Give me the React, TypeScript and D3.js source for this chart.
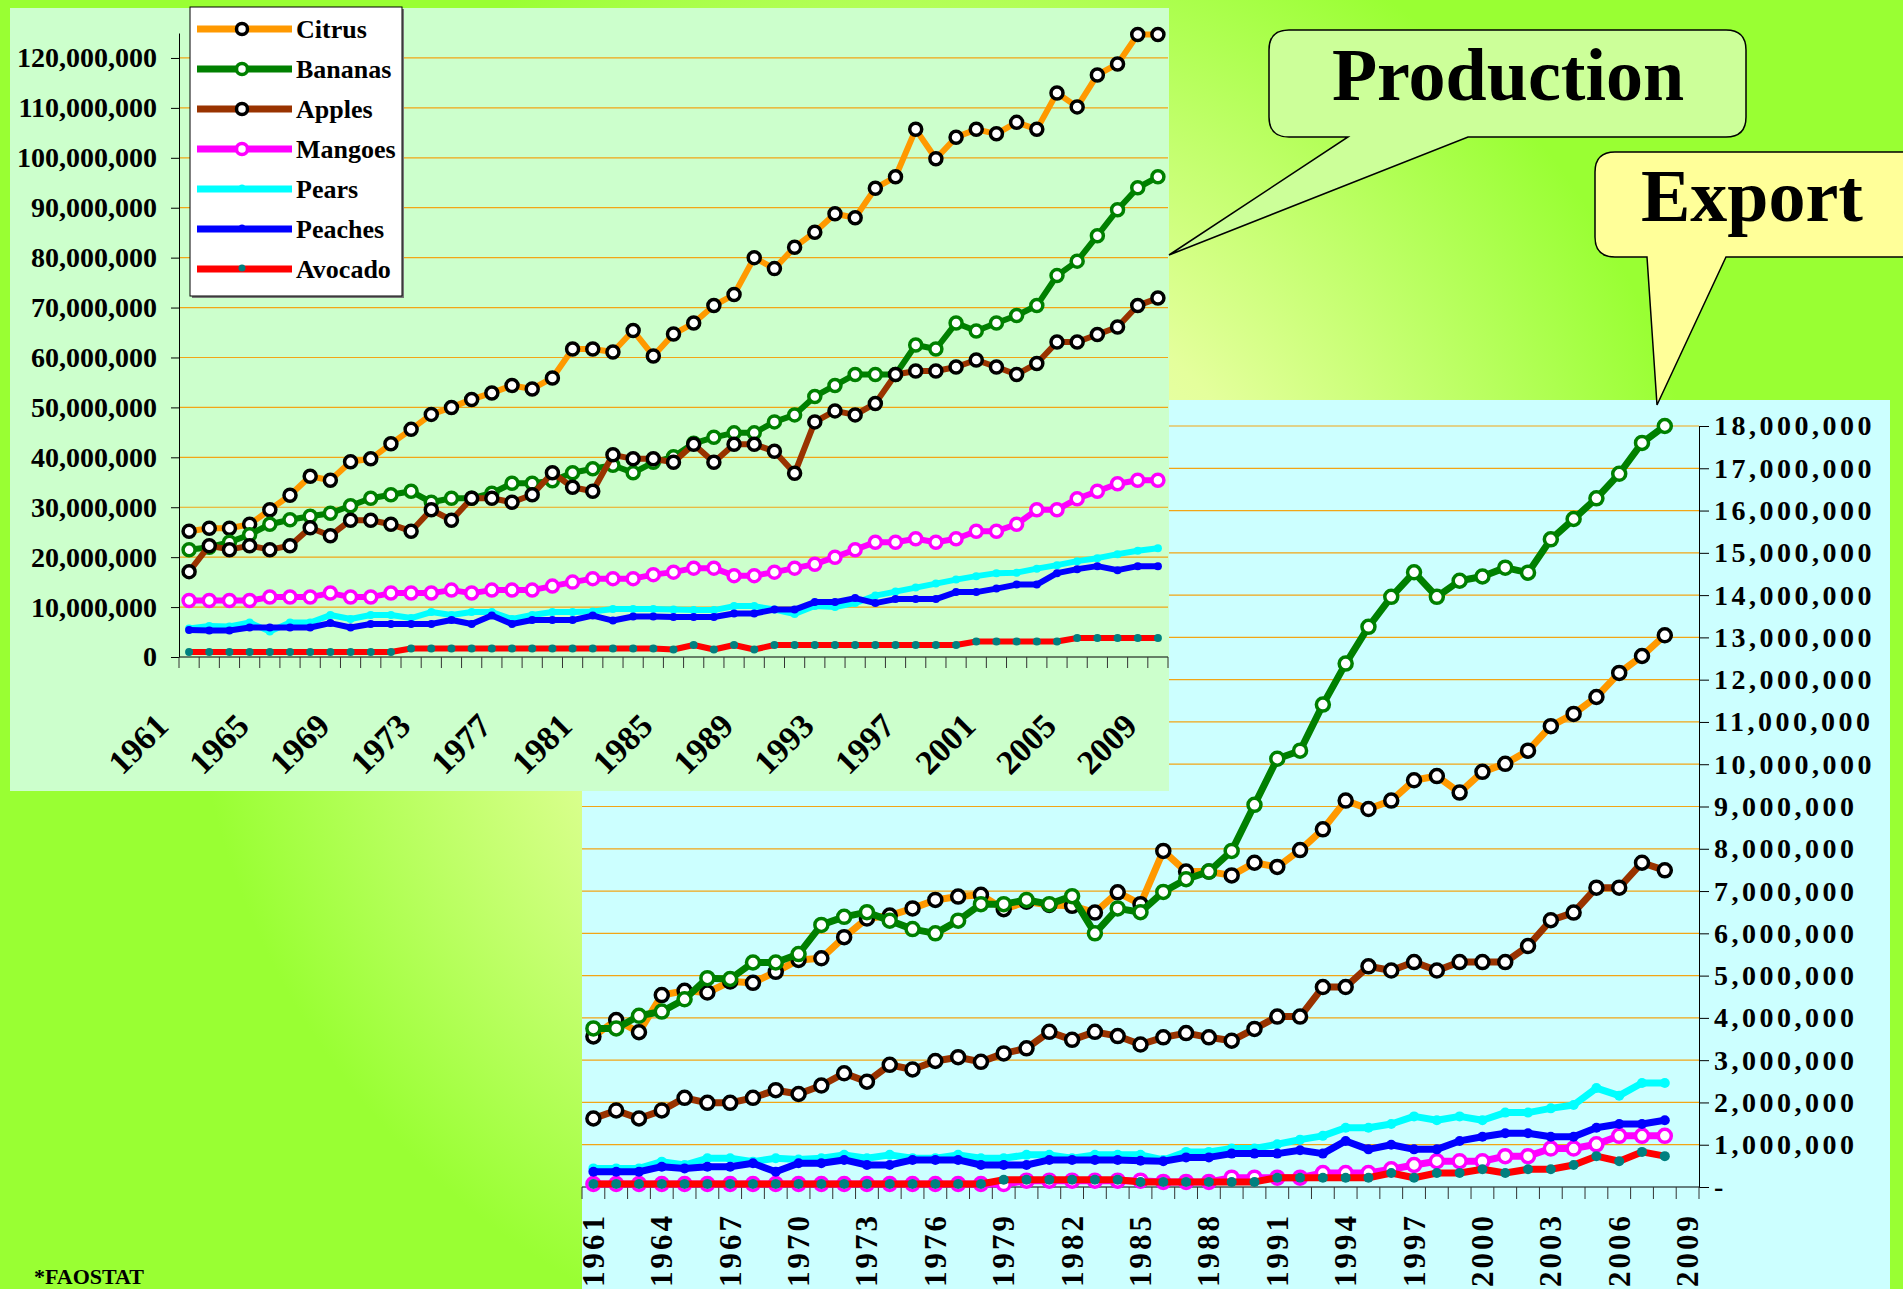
import React, { useRef, useEffect } from 'react';
import * as d3 from 'd3';

const WIDTH = 1903;
const HEIGHT = 1289;
const SERIF = "'Liberation Serif', 'Times New Roman', Times, serif";

// categories
const prodYears = d3.range(1961, 2010);
const expYears = d3.range(1961, 2010); // the 2009 slot has no export data

const seriesNames = ['Citrus', 'Bananas', 'Apples', 'Mangoes', 'Pears', 'Peaches', 'Avocado'];

// production, million tonnes, 1961-2009
const prodCitrus = [25.2, 25.8, 25.8, 26.6, 29.5, 32.4, 36.2, 35.4, 39.1, 39.7, 42.7, 45.6, 48.6, 50.0, 51.6, 52.9, 54.4, 53.7, 55.9, 61.7, 61.7, 61.1, 65.4, 60.3, 64.7,
  66.9, 70.4, 72.6, 80.0, 77.8, 82.1, 85.1, 88.8, 88.0, 93.9, 96.2, 105.7, 99.8, 104.1, 105.7, 104.8, 107.1, 105.7, 113.0, 110.2, 116.6, 118.8, 124.7, 124.7];
const prodBananas = [21.5, 22.0, 23.0, 24.5, 26.6, 27.5, 28.2, 28.8, 30.3, 31.8, 32.5, 33.2, 31.0, 31.8, 31.8, 32.8, 34.8, 34.8, 35.3, 36.9, 37.7, 38.4, 36.9, 39.0, 40.1,
  42.8, 44.0, 44.9, 44.9, 47.1, 48.5, 52.2, 54.4, 56.6, 56.6, 56.6, 62.5, 61.7, 66.9, 65.3, 66.9, 68.4, 70.4, 76.4, 79.3, 84.4, 89.6, 94.0, 96.2];
const prodApples = [17.1, 22.3, 21.5, 22.3, 21.5, 22.3, 25.9, 24.3, 27.4, 27.4, 26.6, 25.2, 29.5, 27.4, 31.8, 31.8, 31.0, 32.5, 36.9, 34.0, 33.2, 40.5, 39.7, 39.7, 39.0,
  42.6, 39.0, 42.6, 42.6, 41.2, 36.8, 47.1, 49.3, 48.5, 50.8, 56.6, 57.3, 57.3, 58.1, 59.5, 58.1, 56.6, 58.8, 63.1, 63.1, 64.6, 66.1, 70.4, 71.9];
const prodMangoes = [11.3, 11.3, 11.3, 11.3, 12.0, 12.0, 12.0, 12.8, 12.0, 12.0, 12.8, 12.8, 12.8, 13.4, 12.8, 13.4, 13.4, 13.4, 14.2, 15.0, 15.7, 15.7, 15.7, 16.5, 17.0,
  17.8, 17.8, 16.3, 16.3, 17.0, 17.8, 18.6, 20.0, 21.5, 23.0, 23.0, 23.7, 23.0, 23.7, 25.2, 25.2, 26.6, 29.5, 29.5, 31.7, 33.2, 34.7, 35.4, 35.4];
const prodPears = [5.7, 6.2, 6.1, 6.9, 5.1, 6.9, 6.9, 8.4, 7.6, 8.4, 8.4, 7.8, 9.0, 8.4, 9.0, 9.0, 7.6, 8.4, 9.0, 9.0, 9.1, 9.6, 9.6, 9.6, 9.5,
  9.4, 9.4, 10.2, 10.2, 9.5, 8.6, 10.2, 10.0, 10.8, 12.3, 13.1, 13.9, 14.7, 15.5, 16.2, 16.8, 16.9, 17.7, 18.4, 19.2, 19.8, 20.6, 21.3, 21.8];
const prodPeaches = [5.4, 5.3, 5.3, 5.9, 5.9, 5.9, 5.9, 6.8, 5.9, 6.6, 6.6, 6.6, 6.6, 7.4, 6.6, 8.3, 6.6, 7.4, 7.4, 7.4, 8.3, 7.3, 8.1, 8.1, 8.0,
  8.0, 8.0, 8.7, 8.7, 9.5, 9.5, 11.0, 11.0, 11.8, 10.8, 11.6, 11.6, 11.6, 13.0, 13.0, 13.7, 14.5, 14.5, 16.8, 17.6, 18.2, 17.4, 18.2, 18.2];
const prodAvocado = [1.0, 1.0, 1.0, 1.0, 1.0, 1.0, 1.0, 1.0, 1.0, 1.0, 1.0, 1.7, 1.7, 1.7, 1.7, 1.7, 1.7, 1.7, 1.7, 1.7, 1.7, 1.7, 1.7, 1.7, 1.5,
  2.4, 1.5, 2.4, 1.5, 2.4, 2.4, 2.4, 2.4, 2.4, 2.4, 2.4, 2.4, 2.4, 2.4, 3.1, 3.1, 3.1, 3.1, 3.1, 3.8, 3.8, 3.8, 3.8, 3.8];

// export, million tonnes, 1961-2008
const expCitrus = [3.56, 3.95, 3.66, 4.54, 4.64, 4.60, 4.86, 4.83, 5.09, 5.37, 5.41, 5.91, 6.35, 6.42, 6.59, 6.79, 6.87, 6.91, 6.57, 6.75, 6.67, 6.65, 6.49, 6.97, 6.69,
  7.95, 7.46, 7.46, 7.37, 7.67, 7.57, 7.97, 8.46, 9.14, 8.94, 9.14, 9.62, 9.72, 9.33, 9.82, 10.01, 10.32, 10.90, 11.19, 11.59, 12.16, 12.56, 13.05];
const expBananas = [3.75, 3.75, 4.05, 4.15, 4.44, 4.94, 4.92, 5.31, 5.31, 5.51, 6.20, 6.39, 6.50, 6.30, 6.10, 6.00, 6.30, 6.69, 6.69, 6.79, 6.69, 6.88, 6.00, 6.59, 6.50,
  6.98, 7.28, 7.46, 7.95, 9.04, 10.13, 10.32, 11.41, 12.38, 13.25, 13.96, 14.54, 13.96, 14.34, 14.44, 14.65, 14.53, 15.32, 15.80, 16.29, 16.87, 17.60, 18.0];
const expApples = [1.62, 1.81, 1.62, 1.81, 2.11, 1.99, 1.99, 2.11, 2.29, 2.20, 2.40, 2.69, 2.49, 2.89, 2.78, 2.98, 3.07, 2.96, 3.16, 3.28, 3.67, 3.48, 3.67, 3.57, 3.37,
  3.54, 3.64, 3.54, 3.46, 3.74, 4.03, 4.03, 4.73, 4.73, 5.22, 5.12, 5.32, 5.12, 5.32, 5.32, 5.32, 5.70, 6.31, 6.49, 7.08, 7.08, 7.67, 7.49];
const expMangoes = [0.07, 0.07, 0.07, 0.07, 0.07, 0.07, 0.07, 0.07, 0.07, 0.07, 0.07, 0.07, 0.07, 0.07, 0.07, 0.07, 0.07, 0.07, 0.07, 0.15, 0.15, 0.15, 0.15, 0.15, 0.15,
  0.12, 0.12, 0.12, 0.22, 0.22, 0.22, 0.22, 0.33, 0.33, 0.33, 0.42, 0.52, 0.61, 0.61, 0.61, 0.73, 0.73, 0.91, 0.91, 1.01, 1.21, 1.21, 1.21];
const expPears = [0.44, 0.44, 0.44, 0.60, 0.52, 0.68, 0.68, 0.60, 0.68, 0.65, 0.68, 0.76, 0.68, 0.76, 0.68, 0.68, 0.76, 0.68, 0.68, 0.76, 0.76, 0.68, 0.76, 0.76, 0.76,
  0.64, 0.83, 0.83, 0.91, 0.91, 1.01, 1.12, 1.21, 1.40, 1.40, 1.49, 1.67, 1.58, 1.67, 1.58, 1.76, 1.76, 1.86, 1.94, 2.34, 2.16, 2.46, 2.46];
const expPeaches = [0.36, 0.36, 0.36, 0.48, 0.44, 0.48, 0.48, 0.56, 0.36, 0.56, 0.56, 0.64, 0.52, 0.52, 0.64, 0.64, 0.64, 0.52, 0.52, 0.52, 0.64, 0.64, 0.64, 0.64, 0.62,
  0.61, 0.70, 0.70, 0.79, 0.79, 0.79, 0.87, 0.79, 1.09, 0.89, 1.00, 0.89, 0.89, 1.09, 1.19, 1.27, 1.27, 1.19, 1.19, 1.40, 1.49, 1.49, 1.58];
const expAvocado = [0.07, 0.07, 0.07, 0.07, 0.07, 0.07, 0.07, 0.07, 0.07, 0.07, 0.07, 0.07, 0.07, 0.07, 0.07, 0.07, 0.07, 0.07, 0.17, 0.17, 0.17, 0.17, 0.17, 0.17, 0.12,
  0.12, 0.12, 0.12, 0.12, 0.12, 0.22, 0.22, 0.22, 0.22, 0.22, 0.33, 0.22, 0.33, 0.33, 0.42, 0.33, 0.42, 0.42, 0.52, 0.73, 0.61, 0.83, 0.73];

const prodSeries = [prodCitrus, prodBananas, prodApples, prodMangoes, prodPears, prodPeaches, prodAvocado];
const expSeries = [expCitrus, expBananas, expApples, expMangoes, expPears, expPeaches, expAvocado];

// tick values (millions)
const prodTicks = d3.range(0, 121, 10);
const expTicks = d3.range(0, 19, 1);
const prodLabelYears = prodYears.filter(y => (y - 1961) % 4 === 0);
const expLabelYears = expYears.filter(y => (y - 1961) % 3 === 0);

// look of each series
const seriesStyle = [
  { color: '#FF9900', marker: 'ring', mark: '#000000' },
  { color: '#008000', marker: 'ring', mark: '#008000' },
  { color: '#993300', marker: 'ring', mark: '#000000' },
  { color: '#FF00FF', marker: 'ring', mark: '#FF00FF' },
  { color: '#00FFFF', marker: 'dot', mark: '#00FFFF' },
  { color: '#0000FF', marker: 'dot', mark: '#0000FF' },
  { color: '#FF0000', marker: 'dot', mark: '#008080' },
];

const GRID = '#F2A516';

function drawSeries(g, x, y, years, values, st, o) {
  const cx = (i) => x(years[i]) + x.bandwidth() / 2;
  const line = d3.line<number>().x((d, i) => cx(i)).y(d => y(d));
  g.append('path')
    .attr('d', line(values))
    .attr('fill', 'none')
    .attr('stroke', st.color)
    .attr('stroke-width', o.lineW)
    .attr('stroke-linejoin', 'round');
  const m = g.append('g');
  if (st.marker === 'ring') {
    m.selectAll('circle').data(values).join('circle')
      .attr('cx', (d, i) => cx(i)).attr('cy', d => y(d))
      .attr('r', o.ringR).attr('fill', '#fff')
      .attr('stroke', st.mark).attr('stroke-width', o.ringW);
  } else {
    m.selectAll('circle').data(values).join('circle')
      .attr('cx', (d, i) => cx(i)).attr('cy', d => y(d))
      .attr('r', o.dotR).attr('fill', st.mark);
  }
}

function drawExport(g) {
  const left = 582, right = 1699, top = 426, bottom = 1187;
  g.append('rect').attr('x', left).attr('y', 400).attr('width', 1890 - left).attr('height', HEIGHT - 400).attr('fill', '#CCFFFF');

  const x = d3.scaleBand<number>().domain(expYears).range([left, right]).padding(0);
  const y = d3.scaleLinear().domain([0, 18]).range([bottom, top]);

  // gridlines
  g.append('g').selectAll('line').data(expTicks.filter(t => t > 0)).join('line')
    .attr('x1', left).attr('x2', right)
    .attr('y1', d => y(d)).attr('y2', d => y(d))
    .attr('stroke', GRID).attr('stroke-width', 1.2);

  // right axis
  const yAxis = d3.axisRight(y).tickValues(expTicks)
    .tickFormat(v => (v === 0 ? '-' : d3.format(',')(+v * 1e6)))
    .tickSize(10).tickSizeOuter(0).tickPadding(5);
  const ya = g.append('g').attr('transform', `translate(${right},0)`).call(yAxis);
  ya.selectAll('text')
    .attr('font-family', SERIF).attr('font-size', 28).attr('font-weight', 'bold')
    .attr('letter-spacing', '3.5px').attr('fill', '#000');
  ya.selectAll('line, path').attr('stroke', '#000');

  // bottom axis line with ticks at category borders
  g.append('line').attr('x1', left).attr('x2', right).attr('y1', bottom).attr('y2', bottom).attr('stroke', '#000');
  g.append('g').selectAll('line').data(expYears.concat([2010])).join('line')
    .attr('x1', (d, i) => left + i * x.bandwidth()).attr('x2', (d, i) => left + i * x.bandwidth())
    .attr('y1', bottom).attr('y2', bottom + 12)
    .attr('stroke', '#333');

  g.append('g').selectAll('text').data(expLabelYears).join('text')
    .attr('transform', d => `translate(${x(d)! + x.bandwidth() / 2},1250) rotate(-90)`)
    .attr('text-anchor', 'middle').attr('dominant-baseline', 'central')
    .attr('font-family', SERIF).attr('font-size', 31).attr('font-weight', 'bold')
    .attr('letter-spacing', '3px')
    .text(d => d);

  expSeries.forEach((vals, k) => {
    drawSeries(g.append('g'), x, y, expYears, vals, seriesStyle[k], { lineW: 7, ringR: 6.5, ringW: 3.5, dotR: 5 });
  });
}

function drawProduction(g) {
  const left = 179, right = 1168, top = 33, bottom = 657;
  g.append('rect').attr('x', 10).attr('y', 8).attr('width', 1169 - 10).attr('height', 791 - 8).attr('fill', '#CCFFCC');

  const x = d3.scaleBand<number>().domain(prodYears).range([left, right]).padding(0);
  const y = d3.scaleLinear().domain([0, 125]).range([bottom, top]);

  g.append('g').selectAll('line').data(prodTicks.filter(t => t > 0)).join('line')
    .attr('x1', left).attr('x2', right)
    .attr('y1', d => y(d)).attr('y2', d => y(d))
    .attr('stroke', GRID).attr('stroke-width', 1.2);

  const yAxis = d3.axisLeft(y).tickValues(prodTicks)
    .tickFormat(v => d3.format(',')(+v * 1e6))
    .tickSize(8).tickSizeOuter(0).tickPadding(14);
  const ya = g.append('g').attr('transform', `translate(${left},0)`).call(yAxis);
  ya.selectAll('text')
    .attr('font-family', SERIF).attr('font-size', 28).attr('font-weight', 'bold').attr('fill', '#000');
  ya.selectAll('line, path').attr('stroke', '#000');

  g.append('line').attr('x1', left).attr('x2', right).attr('y1', bottom).attr('y2', bottom).attr('stroke', '#000');
  g.append('g').selectAll('line').data(prodYears.concat([2010])).join('line')
    .attr('x1', (d, i) => left + i * x.bandwidth()).attr('x2', (d, i) => left + i * x.bandwidth())
    .attr('y1', bottom).attr('y2', bottom + 11)
    .attr('stroke', '#333');

  g.append('g').selectAll('text').data(prodLabelYears).join('text')
    .attr('transform', d => `translate(${x(d)! + x.bandwidth() / 2 - 51},744) rotate(-45)`)
    .attr('text-anchor', 'middle').attr('dominant-baseline', 'central')
    .attr('font-family', SERIF).attr('font-size', 34).attr('font-weight', 'bold')
    .text(d => d);

  prodSeries.forEach((vals, k) => {
    drawSeries(g.append('g'), x, y, prodYears, vals, seriesStyle[k], { lineW: 6, ringR: 6, ringW: 3.5, dotR: 4 });
  });

  // legend
  const lg = g.append('g');
  lg.append('rect').attr('x', 192).attr('y', 9).attr('width', 212).attr('height', 289).attr('fill', '#777');
  lg.append('rect').attr('x', 190).attr('y', 7).attr('width', 212).attr('height', 289).attr('fill', '#fff').attr('stroke', '#000').attr('stroke-width', 1);
  seriesNames.forEach((name, k) => {
    const ry = 29 + k * 40;
    const st = seriesStyle[k];
    lg.append('line').attr('x1', 197).attr('x2', 292).attr('y1', ry).attr('y2', ry)
      .attr('stroke', st.color).attr('stroke-width', 7);
    if (st.marker === 'ring') {
      lg.append('circle').attr('cx', 242).attr('cy', ry).attr('r', 5.5).attr('fill', '#fff')
        .attr('stroke', st.mark).attr('stroke-width', 3.5);
    } else {
      lg.append('circle').attr('cx', 242).attr('cy', ry - 1).attr('r', 3.5).attr('fill', st.mark);
    }
    lg.append('text').attr('x', 296).attr('y', ry + 9)
      .attr('font-family', SERIF).attr('font-size', 26).attr('font-weight', 'bold')
      .text(name);
  });
}

function calloutPath(x0, y0, x1, y1, r, bx0, bx1, tx, ty) {
  return `M${x0 + r},${y0} H${x1 - r} Q${x1},${y0} ${x1},${y0 + r} V${y1 - r} Q${x1},${y1} ${x1 - r},${y1} ` +
    `H${bx1} L${tx},${ty} L${bx0},${y1} H${x0 + r} Q${x0},${y1} ${x0},${y1 - r} V${y0 + r} Q${x0},${y0} ${x0 + r},${y0} Z`;
}

function drawCallouts(g) {
  g.append('path').attr('d', calloutPath(1269, 30, 1746, 137, 20, 1348, 1468, 1169, 255))
    .attr('fill', '#CCFF99').attr('stroke', '#000').attr('stroke-width', 1.5);
  g.append('text').attr('x', 1508).attr('y', 100).attr('text-anchor', 'middle')
    .attr('font-family', SERIF).attr('font-size', 74).attr('font-weight', 'bold')
    .text('Production');

  g.append('path').attr('d', calloutPath(1595, 152, 1930, 257, 20, 1647, 1726, 1657, 405))
    .attr('fill', '#FFFF99').attr('stroke', '#000').attr('stroke-width', 1.5);
  g.append('text').attr('x', 1752).attr('y', 221).attr('text-anchor', 'middle')
    .attr('font-family', SERIF).attr('font-size', 74).attr('font-weight', 'bold')
    .text('Export');
}

export default function App() {
  const svgRef = useRef<SVGSVGElement>(null);

  useEffect(() => {
    const svg = d3.select(svgRef.current);
    svg.selectAll('*').remove();

    const defs = svg.append('defs');
    const grad = defs.append('radialGradient').attr('id', 'bg').attr('gradientUnits', 'userSpaceOnUse')
      .attr('cx', 950).attr('cy', 620).attr('r', 760);
    grad.append('stop').attr('offset', '0').attr('stop-color', '#F5FFC0');
    grad.append('stop').attr('offset', '0.45').attr('stop-color', '#E4FF9C');
    grad.append('stop').attr('offset', '1').attr('stop-color', '#99FF33');
    svg.append('rect').attr('width', WIDTH).attr('height', HEIGHT).attr('fill', 'url(#bg)');

    drawExport(svg.append('g'));
    drawProduction(svg.append('g'));
    drawCallouts(svg.append('g'));

    svg.append('text').attr('x', 34).attr('y', 1284)
      .attr('font-family', SERIF).attr('font-size', 22).attr('font-weight', 'bold')
      .text('*FAOSTAT');
  }, []);

  return (
    <svg ref={svgRef} width={WIDTH} height={HEIGHT}
      style={{ position: 'absolute', left: 0, top: 0, display: 'block' }} />
  );
}
